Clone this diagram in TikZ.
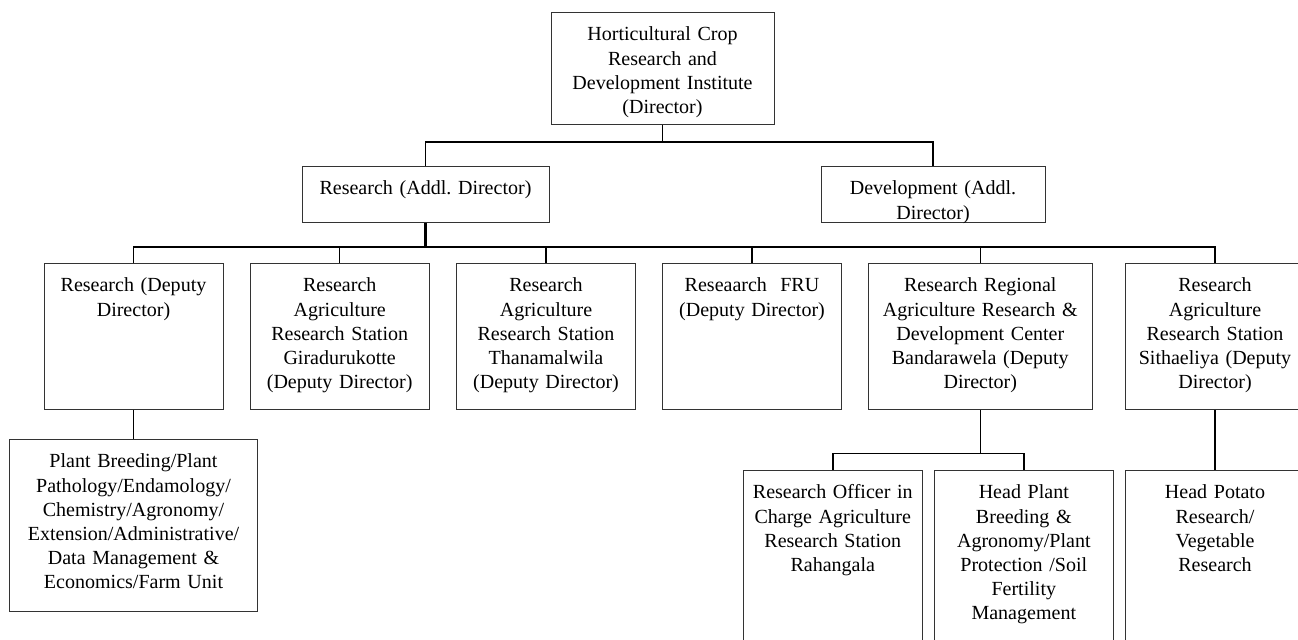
\documentclass[tikz,border=0pt]{standalone}
\usepackage{fontspec}
\setmainfont{Liberation Serif}
\frenchspacing

\begin{document}
\begin{tikzpicture}[x=0.02cm, y=0.02cm, font=\fontsize{11.4}{13.7}\selectfont]
    \tikzstyle{unit} = [rectangle, draw=black!80, line width=0.5pt, anchor=north, align=center, inner sep=0pt, text height=0.57cm]
    \tikzstyle{link} = [line width=0.8pt]
    \tikzstyle{spine} = [line width=1.3pt]

    \useasboundingbox (0,0) rectangle (1298,-639);
    \clip (0,0) rectangle (1298,-639);

    % institute and the two additional directors
    \node [unit, text width=4.46cm, text depth=1.67cm] (hcrdi) at (662.5,-12) {Horticultural Crop\\Research and\\Development Institute\\(Director)};
    \node [unit, text width=4.94cm, text depth=0.55cm] (resadd) at (425.5,-166) {Research (Addl. Director)};
    \node [unit, text width=4.48cm, text depth=0.55cm] (devadd) at (933,-166) {Development (Addl.\\Director)};

    % deputy directors
    \node [unit, text width=3.58cm, text depth=2.35cm] (dd) at (133.5,-263) {Research (Deputy\\Director)};
    \node [unit, text width=3.58cm, text depth=2.35cm] (gira) at (339.7,-263) {Research\\Agriculture\\Research Station\\Giradurukotte\\(Deputy Director)};
    \node [unit, text width=3.57cm, text depth=2.35cm] (than) at (546,-263) {Research\\Agriculture\\Research Station\\Thanamalwila\\(Deputy Director)};
    \node [unit, text width=3.58cm, text depth=2.35cm] (fru) at (752,-263) {Reseaarch~ FRU\\(Deputy Director)};
    \node [unit, text width=4.48cm, text depth=2.35cm] (band) at (980.3,-263) {Research Regional\\Agriculture Research \&\\Development Center\\Bandarawela (Deputy\\Director)};
    \node [unit, text width=3.58cm, text depth=2.35cm] (sith) at (1215,-263) {Research\\Agriculture\\Research Station\\Sithaeliya (Deputy\\Director)};

    % divisions
    \node [unit, text width=4.95cm, text depth=2.87cm] (plant) at (133.5,-439) {Plant Breeding/Plant\\Pathology/Endamology/\\Chemistry/Agronomy/\\Extension/Administrative/\\Data Management \&\\Economics/Farm Unit};
    \node [unit, text width=3.58cm, text depth=3.03cm] (rah) at (832.8,-470) {Research Officer in\\Charge Agriculture\\Research Station\\Rahangala};
    \node [unit, text width=3.58cm, text depth=3.03cm] (hpb) at (1023.8,-470) {Head Plant\\Breeding \&\\Agronomy/Plant\\Protection /Soil\\Fertility\\Management};
    \node [unit, text width=3.58cm, text depth=3.03cm] (potato) at (1215,-470) {Head Potato\\Research/\\Vegetable\\Research};

    % connectors
    \path (hcrdi.south) ++(0,-17) coordinate (b1);
    \draw [link] (hcrdi.south) -- (b1) -| (resadd.north);
    \draw [link] (b1) -| (devadd.north);

    \path (resadd.south) ++(0,-24) coordinate (b2);
    \draw [spine] (resadd.south) -- (b2) -- (b2 -| band.north);
    \foreach \n in {dd, gira, than, fru, band, sith}
        \draw [link] (b2) -| (\n.north);

    \draw [link] (dd.south) -- (plant.north);

    \path (band.south) ++(0,-43.5) coordinate (b3);
    \draw [link] (band.south) -- (b3) -| (rah.north);
    \draw [link] (b3) -| (hpb.north);

    \draw [link] (sith.south) -- (potato.north);
\end{tikzpicture}
\end{document}
